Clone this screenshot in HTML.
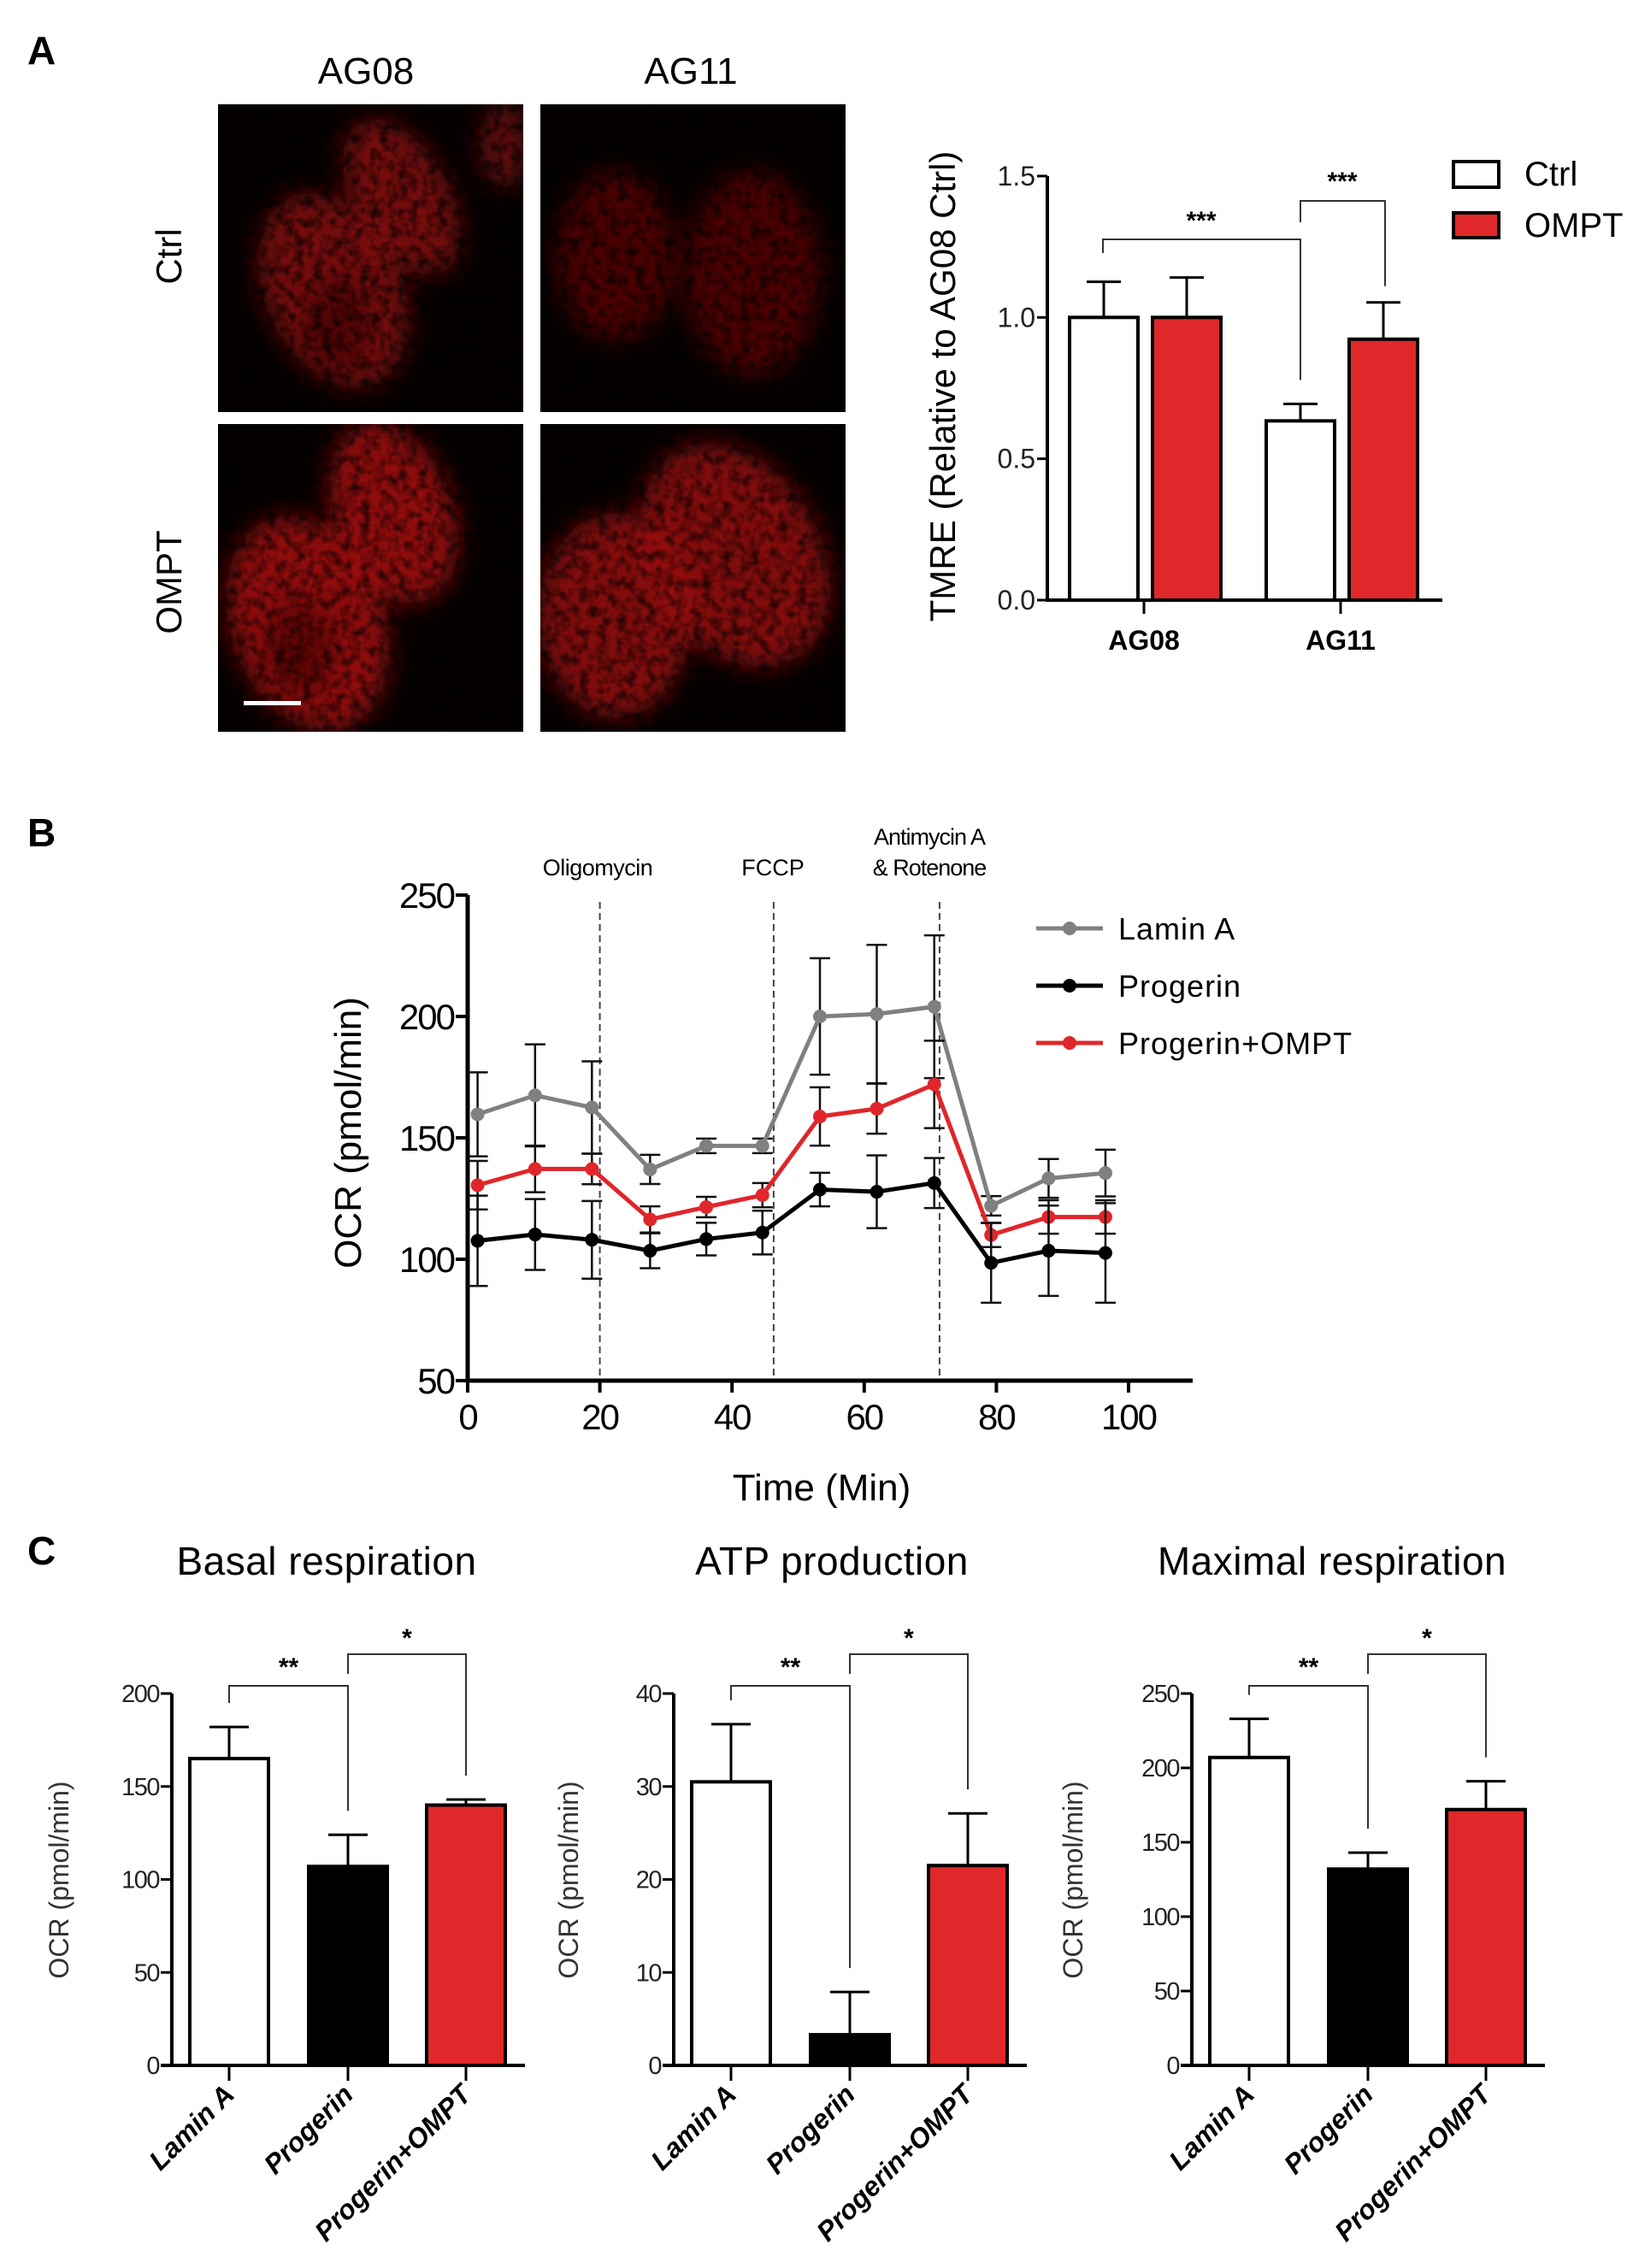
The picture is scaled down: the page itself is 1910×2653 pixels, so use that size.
<!DOCTYPE html>
<html><head><meta charset="utf-8"><style>
html,body{margin:0;padding:0;background:#fff;}
svg{display:block;font-family:"Liberation Sans",sans-serif;}
.narrow{font-family:"Liberation Sans Narrow","Liberation Sans",sans-serif;}
</style></head><body>
<svg id="fig" xmlns="http://www.w3.org/2000/svg" width="1910" height="2653" viewBox="0 0 1910 2653">
<defs>
<filter id="blur8" x="-30%" y="-30%" width="160%" height="160%"><feGaussianBlur stdDeviation="14"/></filter>
<filter id="speck" x="0" y="0" width="100%" height="100%">
<feTurbulence type="fractalNoise" baseFrequency="0.09" numOctaves="2" seed="3"/>
<feColorMatrix type="matrix" values="0 0 0 0 0  0 0 0 0 0  0 0 0 0 0  -2.2 0 0 0 1.35"/>
</filter>
<clipPath id="c1"><rect x="255" y="122" width="357" height="360"/></clipPath>
<clipPath id="c2"><rect x="632" y="122" width="357" height="360"/></clipPath>
<clipPath id="c3"><rect x="255" y="496" width="357" height="360"/></clipPath>
<clipPath id="c4"><rect x="632" y="496" width="357" height="360"/></clipPath>
</defs>
<rect width="1910" height="2653" fill="#fff"/>
<text x="32" y="75" font-size="46" font-weight="bold">A</text>
<text x="32" y="990" font-size="46" font-weight="bold">B</text>
<text x="32" y="1830" font-size="46" font-weight="bold">C</text>

<text class="narrow" x="428" y="98" font-size="44" text-anchor="middle">AG08</text>
<text class="narrow" x="808" y="98" font-size="44" text-anchor="middle">AG11</text>
<text x="212" y="300" font-size="42" text-anchor="middle" transform="rotate(-90 212 300)">Ctrl</text>
<text x="212" y="681" font-size="42" text-anchor="middle" transform="rotate(-90 212 681)">OMPT</text>

<g clip-path="url(#c1)">
<rect x="255" y="122" width="357" height="360" fill="#050000"/>
<g filter="url(#blur8)" fill="#9a0c0c">
<ellipse cx="390" cy="340" rx="80" ry="120" transform="rotate(-25 390 340)" opacity="0.75"/>
<ellipse cx="470" cy="230" rx="55" ry="100" transform="rotate(-30 470 230)" opacity="0.75"/>
<ellipse cx="590" cy="170" rx="30" ry="50" opacity="0.6"/>
</g>
<ellipse cx="395" cy="380" rx="40" ry="55" fill="#3a0303" opacity="0.6" filter="url(#blur8)"/>
<rect x="255" y="122" width="357" height="360" filter="url(#speck)" opacity="0.75"/>
</g>
<g clip-path="url(#c2)">
<rect x="632" y="122" width="357" height="360" fill="#050000"/>
<g filter="url(#blur8)" fill="#6a0707">
<ellipse cx="720" cy="300" rx="70" ry="100" opacity="0.7"/>
<ellipse cx="880" cy="320" rx="80" ry="120" opacity="0.7"/>
</g>
<rect x="632" y="122" width="357" height="360" filter="url(#speck)" opacity="0.75"/>
</g>
<g clip-path="url(#c3)">
<rect x="255" y="496" width="357" height="360" fill="#050000"/>
<g filter="url(#blur8)" fill="#b01212">
<ellipse cx="360" cy="730" rx="90" ry="130" transform="rotate(-20 360 730)" opacity="0.8"/>
<ellipse cx="460" cy="600" rx="70" ry="110" transform="rotate(-20 460 600)" opacity="0.8"/>
</g>
<ellipse cx="350" cy="760" rx="40" ry="55" fill="#400303" opacity="0.6" filter="url(#blur8)"/>
<rect x="255" y="496" width="357" height="360" filter="url(#speck)" opacity="0.7"/>
<rect x="285" y="820" width="67" height="5" fill="#fff"/>
</g>
<g clip-path="url(#c4)">
<rect x="632" y="496" width="357" height="360" fill="#050000"/>
<g filter="url(#blur8)" fill="#a01010">
<ellipse cx="720" cy="720" rx="90" ry="120" opacity="0.8"/>
<ellipse cx="860" cy="650" rx="100" ry="140" transform="rotate(-30 860 650)" opacity="0.8"/>
</g>
<rect x="632" y="496" width="357" height="360" filter="url(#speck)" opacity="0.7"/>
</g>
<g id="plots"></g>
</svg>
<script>
var NS='http://www.w3.org/2000/svg';
var root=document.getElementById('plots');
function mk(tag,attrs,parent){var e=document.createElementNS(NS,tag);for(var k in attrs)e.setAttribute(k,attrs[k]);(parent||root).appendChild(e);return e;}
function txt(s,attrs,parent){var e=mk('text',attrs,parent);e.textContent=s;return e;}

/* ---------- Panel A bar chart data ---------- */
var tmreGroups=['AG08','AG11'];
var tmreCtrl=[1.0,0.634];
var tmreCtrlErr=[0.126,0.06];
var tmreOmpt=[1.0,0.923];
var tmreOmptErr=[0.141,0.13];
var tmreTicks=[0.0,0.5,1.0,1.5];

/* ---------- Panel B line chart data ---------- */
var timeMin=[1.5,10.2,18.8,27.6,36.1,44.6,53.3,61.9,70.6,79.2,87.9,96.5];
var laminA=[159.7,167.5,162.5,137,146.7,146.7,200,201,204,122,133.3,135.5];
var laminAErr=[17.3,21,19,6,3,3,24,28.5,29.4,4,8,9.6];
var progerin=[107.6,110.2,108,103.5,108.3,111,128.7,127.8,131.4,98.5,103.5,102.6];
var progerinErr=[18.6,14.6,16,7.2,6.7,9,6.9,15,10.3,16.4,18.6,20.5];
var progOmpt=[130.5,137.2,137.2,116.4,121.5,126.4,158.8,162,172,110,117.4,117.4];
var progOmptErr=[10,9.6,6.3,5.4,4.2,5,12,10.3,18,5,6.9,6.9];
var ocrTicks=[50,100,150,200,250];
var timeTicks=[0,20,40,60,80,100];
var injectionTimes=[20,46.3,71.4];

/* ---------- Panel C data ---------- */
var cCategories=['Lamin A','Progerin','Progerin+OMPT'];
var basalVals=[165,107,140];
var basalErr=[17,17,3];
var atpVals=[30.5,3.3,21.5];
var atpErr=[6.2,4.6,5.6];
var maxVals=[207,132,172];
var maxErr=[26,11,19];
var basalTicks=[0,50,100,150,200];
var atpTicks=[0,10,20,30,40];
var maxTicks=[0,50,100,150,200,250];

/* ===== Panel A chart ===== */
(function(){
var g=mk('g',{});


var X0=1225,XE=1687,Y0=702,S=330.7;
function y(v){return Y0-v*S;}
var cx=[1338,1568];
tmreTicks.forEach(function(t){
 var l=mk('line',{x1:X0-12,x2:X0,y1:y(t),y2:y(t),stroke:'#000','stroke-width':3},g);
 
 
 var tx=txt(t.toFixed(1),{x:X0-14,y:y(t)+11,'font-size':32,'text-anchor':'end','class':'narrow',fill:'#222'},g);
 
 
});
var yt=txt('TMRE (Relative to AG08 Ctrl)',{x:1117,y:452,'font-size':42,'text-anchor':'middle',transform:'rotate(-90 1117 452)'},g);


function bar(xl,v,e,fill,name){
 var tb=y(v+e);
 var el=mk('line',{x1:xl+40,x2:xl+40,y1:y(v),y2:tb,stroke:'#000','stroke-width':3},g);
 
 
 var cap=mk('line',{x1:xl+20,x2:xl+60,y1:tb,y2:tb,stroke:'#000','stroke-width':3},g);
 
 
 var r=mk('rect',{x:xl,y:y(v),width:80,height:Y0-y(v),fill:fill,stroke:'#000','stroke-width':4},g);
 
 
}
tmreGroups.forEach(function(gname,i){
 bar(cx[i]-87,tmreCtrl[i],tmreCtrlErr[i],'#fff','bar-'+gname.toLowerCase()+'-ctrl');
 bar(cx[i]+10,tmreOmpt[i],tmreOmptErr[i],'#e0282a','bar-'+gname.toLowerCase()+'-ompt');
 var tk=mk('line',{x1:cx[i],x2:cx[i],y1:Y0,y2:Y0+16,stroke:'#000','stroke-width':3},g);
 
 
 var lb=txt(gname,{x:cx[i],y:760,'font-size':32,'font-weight':'bold','text-anchor':'middle'},g);
 
 
});
var ax=mk('path',{d:'M'+X0+' '+y(1.5)+' V'+Y0+' H'+XE,fill:'none',stroke:'#000','stroke-width':4},g);


var ctrlTop1=y(tmreCtrl[1]+tmreCtrlErr[1])-28, omptTop1=y(tmreOmpt[1]+tmreOmptErr[1])-19;
var b1=mk('path',{d:'M1290 296 V280 H1521 V'+ctrlTop1,fill:'none',stroke:'#333','stroke-width':2},g);


var s1=txt('***',{x:1405,y:268,'font-size':30,'font-weight':'bold','text-anchor':'middle'},g);


var b2=mk('path',{d:'M1521 260 V235 H1620 V'+omptTop1,fill:'none',stroke:'#333','stroke-width':2},g);


var s2=txt('***',{x:1570,y:222,'font-size':30,'font-weight':'bold','text-anchor':'middle'},g);


var lg=mk('g',{},g);


var r1=mk('rect',{x:1700,y:189,width:53,height:30,fill:'#fff',stroke:'#000','stroke-width':4},lg);


var t1=txt('Ctrl',{x:1783,y:217,'font-size':40,'class':'narrow'},lg);


var r2=mk('rect',{x:1700,y:249,width:53,height:29,fill:'#e0282a',stroke:'#000','stroke-width':4},lg);


var t2=txt('OMPT',{x:1783,y:277,'font-size':40,'class':'narrow'},lg);


})();

/* ===== Panel B chart ===== */
(function(){
var g=mk('g',{});


var X0=547,XE=1395,Y0=1615;
function x(t){return X0+t*7.73;}
function y(v){return 1047+(250-v)*2.84;}
injectionTimes.forEach(function(t){
 var l=mk('line',{x1:x(t),x2:x(t),y1:1055,y2:Y0,stroke:'#444','stroke-width':2,'stroke-dasharray':'8,5'},g);
 
 
});
var a1=txt('Oligomycin',{x:699,y:1024,'font-size':27,'text-anchor':'middle','letter-spacing':'-0.5'},g);


var a2=txt('FCCP',{x:904,y:1024,'font-size':27,'text-anchor':'middle'},g);


var a3=txt('Antimycin A',{x:1087,y:988,'font-size':27,'text-anchor':'middle','letter-spacing':'-1'},g);


var a4=txt('& Rotenone',{x:1087,y:1024,'font-size':27,'text-anchor':'middle','letter-spacing':'-1'},g);


ocrTicks.forEach(function(v){
 var l=mk('line',{x1:X0-14,x2:X0,y1:y(v),y2:y(v),stroke:'#000','stroke-width':4},g);
 
 
 var t=txt(String(v),{x:X0-16,y:y(v)+15,'font-size':42,'text-anchor':'end','letter-spacing':'-2'},g);
 
 
});
timeTicks.forEach(function(v){
 var l=mk('line',{x1:x(v),x2:x(v),y1:Y0,y2:Y0+14,stroke:'#000','stroke-width':4},g);
 
 
 var t=txt(String(v),{x:x(v),y:1672,'font-size':42,'text-anchor':'middle','letter-spacing':'-2'},g);
 
 
});
var ax=mk('path',{d:'M'+X0+' '+y(250)+' V'+Y0+' H'+XE,fill:'none',stroke:'#000','stroke-width':5},g);


var yt=txt('OCR (pmol/min)',{x:422,y:1325,'font-size':44,'text-anchor':'middle',transform:'rotate(-90 422 1325)'},g);


var xt=txt('Time (Min)',{x:961,y:1755,'font-size':44,'text-anchor':'middle'},g);


function series(vals,errs,color,name){
 var sg=mk('g',{},g);
 
 
 vals.forEach(function(v,i){
  var px=x(timeMin[i]);
  var e=mk('path',{d:'M'+px+' '+y(v-errs[i])+' V'+y(v+errs[i])+' M'+(px-12)+' '+y(v-errs[i])+' h24 M'+(px-12)+' '+y(v+errs[i])+' h24',stroke:'#111','stroke-width':2.5,fill:'none'},sg);
  
  
 });
 var d=vals.map(function(v,i){return (i?'L':'M')+x(timeMin[i])+' '+y(v);}).join(' ');
 var p=mk('path',{d:d,stroke:color,'stroke-width':5,fill:'none'},sg);
 
 
 vals.forEach(function(v,i){
  var c=mk('circle',{cx:x(timeMin[i]),cy:y(v),r:8,fill:color},sg);
  
  
 });
}
series(laminA,laminAErr,'#808080','lamin-a');
series(progOmpt,progOmptErr,'#e0262a','progerin-ompt');
series(progerin,progerinErr,'#000','progerin');
var lg=mk('g',{},g);


var items=[['Lamin A','#808080',1086],['Progerin','#000',1153],['Progerin+OMPT','#e0262a',1220]];
items.forEach(function(it){
 var l=mk('line',{x1:1212,x2:1290,y1:it[2],y2:it[2],stroke:it[1],'stroke-width':5},lg);
 
 
 var c=mk('circle',{cx:1251,cy:it[2],r:8,fill:it[1]},lg);
 
 
 var t=txt(it[0],{x:1308,y:it[2]+13,'font-size':36,'letter-spacing':'1'},lg);
 
 
});
})();

/* ===== Panel C charts ===== */
function cChart(title,titleX,axX,vals,errs,ticks,maxV,ytX,key){
 var g=mk('g',{});
 
 
 var Y0=2416,H=435;
 function y(v){return Y0-v/maxV*H;}
 var tickX=[axX+67,axX+206,axX+344];
 var tt=txt(title,{x:titleX,y:1842,'font-size':46,'text-anchor':'middle','letter-spacing':'0.5'},g);
 
 
 ticks.forEach(function(v){
  var l=mk('line',{x1:axX-13,x2:axX,y1:y(v),y2:y(v),stroke:'#000','stroke-width':3},g);
  
  
  var t=txt(String(v),{x:axX-15,y:y(v)+10,'font-size':29,'text-anchor':'end','letter-spacing':'-1.5',fill:'#222'},g);
  
  
 });
 var yt=txt('OCR (pmol/min)',{x:ytX,y:2199,'font-size':32,'text-anchor':'middle',fill:'#333',transform:'rotate(-90 '+ytX+' 2199)'},g);
 
 
 var fills=['#fff','#000','#e0282a'];
 var errTops=[];
 vals.forEach(function(v,i){
  var tb=y(v+errs[i]); errTops.push(tb);
  var e=mk('path',{d:'M'+tickX[i]+' '+y(v)+' V'+tb+' M'+(tickX[i]-23)+' '+tb+' h46',stroke:'#000','stroke-width':3,fill:'none'},g);
  
  
  var r=mk('rect',{x:tickX[i]-46,y:y(v),width:92,height:Y0-y(v),fill:fills[i],stroke:'#000','stroke-width':4},g);
  
  
  var tk=mk('line',{x1:tickX[i],x2:tickX[i],y1:Y0,y2:Y0+18,stroke:'#000','stroke-width':3},g);
  
  
  var lx=tickX[i]+8,ly=2452;
  var lb=txt(cCategories[i],{x:lx,y:ly,'font-size':32,'font-weight':'bold','font-style':'italic','text-anchor':'end',transform:'rotate(-45 '+lx+' '+ly+')'},g);
  
  
 });
 var ax=mk('path',{d:'M'+axX+' '+y(maxV)+' V'+Y0+' H'+(axX+413)+' M'+(axX-13)+' '+Y0+' H'+axX,fill:'none',stroke:'#000','stroke-width':4},g);
 
 
 var b1=mk('path',{d:'M'+tickX[0]+' '+Math.min(1996,errTops[0]-28)+' V1972 H'+tickX[1]+' V'+(errTops[1]-28),fill:'none',stroke:'#333','stroke-width':2},g);
 
 
 var s1=txt('**',{x:(tickX[0]+tickX[1])/2,y:1960,'font-size':30,'font-weight':'bold','text-anchor':'middle'},g);
 
 
 var b2=mk('path',{d:'M'+tickX[1]+' 1958 V1935 H'+tickX[2]+' V'+(errTops[2]-28),fill:'none',stroke:'#333','stroke-width':2},g);
 
 
 var s2=txt('*',{x:(tickX[1]+tickX[2])/2,y:1926,'font-size':30,'font-weight':'bold','text-anchor':'middle'},g);
 
 
}
cChart('Basal respiration',382,201,basalVals,basalErr,basalTicks,200,80,'basal');
cChart('ATP production',973,788,atpVals,atpErr,atpTicks,40,676,'atp');
cChart('Maximal respiration',1558,1394,maxVals,maxErr,maxTicks,250,1266,'maximal');
</script>
</body></html>
